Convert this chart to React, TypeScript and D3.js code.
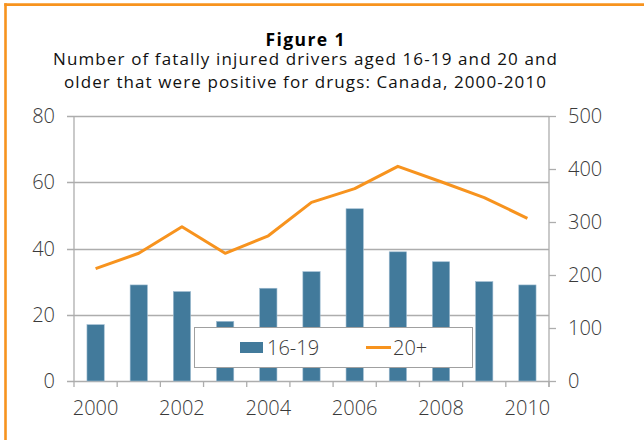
import React from "react";
import * as d3 from "d3";

const years = ["2000", "2001", "2002", "2003", "2004", "2005", "2006", "2007", "2008", "2009", "2010"];
const teenDrivers = [17, 29, 27, 18, 28, 33, 52, 39, 36, 30, 29];
const adultDrivers = [212, 241, 291, 241, 274, 337, 363, 405, 376, 346, 307];
const leftTicks = [0, 20, 40, 60, 80];
const rightTicks = [0, 100, 200, 300, 400, 500];
const yearLabels = ["2000", "2002", "2004", "2006", "2008", "2010"];
const titleLines = [
  "Number of fatally injured drivers aged 16-19 and 20 and",
  "older that were positive for drugs: Canada, 2000-2010",
];
const seriesNames = ["16-19", "20+"];

const W = 644;
const H = 440;
const plot = { left: 74, right: 549, top: 116, bottom: 381 };
const FONT = "'Open Sans', 'Noto Sans', sans-serif";
const BAR = "#427A9B";
const LINE = "#F7931E";
const GRID = "#ADADAD";
const TEXT = "#3A3A3A";

// widths of the heading lines, spread with letter spacing
const titleWidth = 79;
const subtitleWidths = [504, 482];

export default function App() {
  const x = d3
    .scaleBand<string>()
    .domain(years)
    .range([plot.left, plot.right])
    .paddingInner(0.6)
    .paddingOuter(0.3);
  const yL = d3.scaleLinear().domain([0, 80]).range([plot.bottom, plot.top]);
  const yR = d3.scaleLinear().domain([0, 500]).range([plot.bottom, plot.top]);
  const step = x.step();
  const cx = (y: string) => (x(y) ?? 0) + x.bandwidth() / 2;

  const linePath = d3
    .line<number>()
    .x((_, i) => cx(years[i]))
    .y((d) => yR(d))(adultDrivers);

  const boundaries = d3.range(years.length + 1).map((i) => plot.left + i * step);

  return (
    <svg
      width={W}
      height={H}
      style={{ position: "absolute", left: 0, top: 0, background: "#fff" }}
      fontFamily={FONT}
    >
      <rect x={0} y={0} width={W} height={H} fill="#fff" />
      {/* frame */}
      <line x1={4.3} x2={W} y1={4.6} y2={4.6} stroke={LINE} strokeWidth={2.6} />
      <line x1={5.5} x2={5.5} y1={3.3} y2={H} stroke={LINE} strokeWidth={2.6} />

      {/* title */}
      <text
        x={305 - titleWidth / 2}
        y={46}
        fontSize={17.5}
        fontWeight={700}
        fill="#000"
        textLength={titleWidth}
        lengthAdjust="spacing"
      >
        Figure 1
      </text>
      {titleLines.map((t, i) => (
        <text
          key={i}
          x={305 - subtitleWidths[i] / 2}
          y={64.5 + i * 23.2}
          fontSize={17}
          fill="#111"
          textLength={subtitleWidths[i]}
          lengthAdjust="spacing"
        >
          {t}
        </text>
      ))}

      {/* gridlines with left ticks */}
      {leftTicks.map((t) => (
        <line
          key={t}
          x1={plot.left - 7}
          x2={plot.right}
          y1={Math.round(yL(t)) + 0.5}
          y2={Math.round(yL(t)) + 0.5}
          stroke={GRID}
          strokeWidth={1.3}
        />
      ))}
      {leftTicks.map((t) => (
        <text
          key={t}
          x={55}
          y={yL(t)}
          dy="0.35em"
          textAnchor="end"
          fontSize={20}
          fontWeight={300}
          fill={TEXT}
        >
          {t}
        </text>
      ))}

      {/* axes */}
      <line x1={plot.left} x2={plot.left} y1={plot.top} y2={plot.bottom} stroke={GRID} strokeWidth={1.3} />
      <line x1={plot.right} x2={plot.right} y1={plot.top} y2={plot.bottom + 6} stroke={GRID} strokeWidth={1.3} />
      {rightTicks.map((t) => (
        <g key={t}>
          <line
            x1={plot.right}
            x2={plot.right + 7}
            y1={Math.round(yR(t)) + 0.5}
            y2={Math.round(yR(t)) + 0.5}
            stroke={GRID}
            strokeWidth={1.3}
          />
          <text x={568} y={yR(t)} dy="0.35em" fontSize={20} fontWeight={300} fill={TEXT}>
            {t}
          </text>
        </g>
      ))}

      {/* bars */}
      {teenDrivers.map((v, i) => (
        <rect
          key={years[i]}
          x={x(years[i])}
          y={yL(v)}
          width={x.bandwidth()}
          height={yL(0) - yL(v)}
          fill={BAR}
          stroke="#9DBBD0"
          strokeWidth={0.6}
        />
      ))}

      {/* x axis ticks and labels */}
      {boundaries.map((b, i) => (
        <line key={i} x1={b} x2={b} y1={plot.bottom} y2={plot.bottom + 6} stroke={GRID} strokeWidth={1.3} />
      ))}
      {yearLabels.map((y) => (
        <text key={y} x={cx(y)} y={415} textAnchor="middle" fontSize={20} fontWeight={300} fill={TEXT}>
          {y}
        </text>
      ))}

      {/* line series */}
      <path d={linePath ?? ""} fill="none" stroke={LINE} strokeWidth={3} strokeLinejoin="round" />

      {/* legend */}
      <rect x={194.5} y={327.5} width={278} height={40} fill="#fff" stroke="#A0A0A0" strokeWidth={1} />
      <rect x={240} y={342} width={23} height={11} fill={BAR} />
      <text x={267} y={355} fontSize={20} fontWeight={300} fill={TEXT}>
        {seriesNames[0]}
      </text>
      <line x1={366} x2={391} y1={347.5} y2={347.5} stroke={LINE} strokeWidth={3} />
      <text x={393} y={355} fontSize={20} fontWeight={300} fill={TEXT}>
        {seriesNames[1]}
      </text>
    </svg>
  );
}
